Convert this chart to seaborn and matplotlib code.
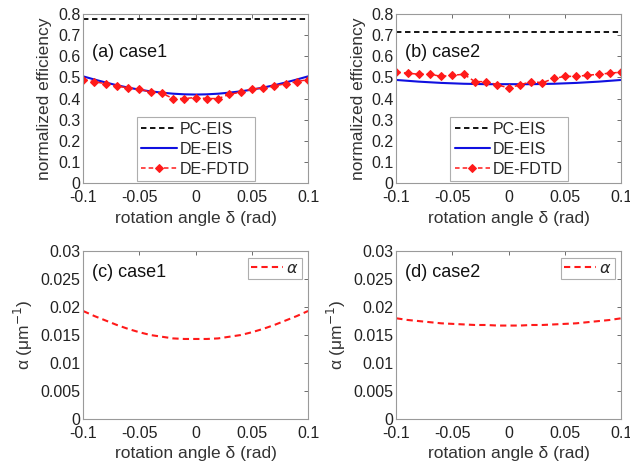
import seaborn as sns
import matplotlib.pyplot as plt
import pandas as pd
import numpy as np
from matplotlib.ticker import FuncFormatter

# =========================
#   DATA
# =========================

delta = [-0.10, -0.09, -0.08, -0.07, -0.06, -0.05, -0.04, -0.03, -0.02, -0.01, 0.00,
         0.01, 0.02, 0.03, 0.04, 0.05, 0.06, 0.07, 0.08, 0.09, 0.10]

# case1
pc_eis_1 = 0.775
de_eis_1 = [0.505, 0.490, 0.476, 0.463, 0.452, 0.442, 0.434, 0.428, 0.423, 0.420, 0.419,
            0.420, 0.423, 0.428, 0.434, 0.442, 0.452, 0.463, 0.476, 0.490, 0.505]
de_fdtd_1 = [0.490, 0.480, 0.470, 0.460, 0.450, 0.445, 0.430, 0.425, 0.400, 0.400, 0.405,
             0.400, 0.400, 0.420, 0.430, 0.445, 0.450, 0.460, 0.470, 0.480, 0.490]
alpha_1 = [0.0193, 0.0184, 0.0176, 0.0168, 0.0161, 0.0155, 0.0150, 0.0147, 0.0144, 0.0143, 0.0143,
           0.0143, 0.0144, 0.0147, 0.0150, 0.0155, 0.0161, 0.0168, 0.0176, 0.0184, 0.0193]

# case2
pc_eis_2 = 0.715
de_eis_2 = [0.488, 0.484, 0.480, 0.477, 0.474, 0.472, 0.470, 0.469, 0.468, 0.468, 0.468,
            0.468, 0.468, 0.469, 0.470, 0.472, 0.474, 0.477, 0.480, 0.484, 0.488]
de_fdtd_2 = [0.525, 0.520, 0.515, 0.515, 0.505, 0.510, 0.515, 0.480, 0.480, 0.465, 0.450,
             0.465, 0.480, 0.475, 0.495, 0.505, 0.505, 0.510, 0.515, 0.520, 0.525]
alpha_2 = [0.0180, 0.0177, 0.0175, 0.0173, 0.0171, 0.0170, 0.0169, 0.0168, 0.0168, 0.0167, 0.0167,
           0.0167, 0.0168, 0.0168, 0.0169, 0.0170, 0.0171, 0.0173, 0.0175, 0.0177, 0.0180]

eff_ticks = [0, 0.1, 0.2, 0.3, 0.4, 0.5, 0.6, 0.7, 0.8]
alpha_ticks = [0, 0.005, 0.01, 0.015, 0.02, 0.025, 0.03]
x_ticks = [-0.1, -0.05, 0, 0.05, 0.1]

# =========================
#   STYLE
# =========================

sns.set_theme(style="white")
plt.rcParams["font.family"] = ["Liberation Sans", "DejaVu Sans"]
plt.rcParams["mathtext.fontset"] = "dejavusans"

fig = plt.figure(figsize=(6.3, 4.66), dpi=100)
fmt = FuncFormatter(lambda v, p: "%g" % round(v, 4))


def style_axes(ax, yticks, ylim):
    ax.set_xlim(-0.1, 0.1)
    ax.set_ylim(*ylim)
    ax.set_xticks(x_ticks)
    ax.set_yticks(yticks)
    ax.xaxis.set_major_formatter(fmt)
    ax.yaxis.set_major_formatter(fmt)
    ax.tick_params(direction="in", length=3, width=0.6, color="#555555",
                   top=True, right=True, labelsize=11.5, labelcolor="#222222")
    ax.tick_params(axis="x", pad=5)
    ax.tick_params(axis="y", pad=2)
    for s in ax.spines.values():
        s.set_color("#9a9a9a")
        s.set_linewidth(0.8)
    ax.set_xlabel("rotation angle δ (rad)", fontsize=12.5, color="#333333", labelpad=4)


positions = {
    "a": [0.132, 0.607, 0.357, 0.363],
    "b": [0.629, 0.607, 0.357, 0.363],
    "c": [0.132, 0.101, 0.357, 0.360],
    "d": [0.629, 0.101, 0.357, 0.360],
}

# =========================
#   EFFICIENCY PANELS
# =========================

for key, case, pc, eis, fdtd in [("a", "case1", pc_eis_1, de_eis_1, de_fdtd_1),
                                  ("b", "case2", pc_eis_2, de_eis_2, de_fdtd_2)]:
    ax = fig.add_axes(positions[key])
    df = pd.DataFrame({"delta": delta, "pc": [pc] * len(delta), "eis": eis, "fdtd": fdtd})
    sns.lineplot(data=df, x="delta", y="pc", ax=ax, color="black", lw=1.3,
                 linestyle=(0, (3, 2)), label="PC-EIS")
    sns.lineplot(data=df, x="delta", y="eis", ax=ax, color="#1010e0", lw=1.5, label="DE-EIS")
    sns.lineplot(data=df, x="delta", y="fdtd", ax=ax, color="#ff1a1a", lw=1.1,
                 linestyle=(0, (3, 2)), marker="D", markersize=4.5,
                 markerfacecolor="#ff1a1a", markeredgecolor="#ff1a1a", label="DE-FDTD")
    style_axes(ax, eff_ticks, (0, 0.8))
    ax.set_ylabel("normalized efficiency", fontsize=12.5, color="#333333", labelpad=4)
    ax.text(0.04, 0.775, f"({key}) {case}", transform=ax.transAxes, fontsize=13,
            va="center", ha="left", color="#111111")
    leg = ax.legend(loc="center", bbox_to_anchor=(0.5, 0.2), fontsize=11.5,
                    frameon=True, fancybox=False, handlelength=2.2, handletextpad=0.2,
                    borderpad=0.3, labelspacing=0.3, borderaxespad=0.2)
    leg.get_frame().set_edgecolor("#9a9a9a")
    leg.get_frame().set_linewidth(0.8)

# =========================
#   ALPHA PANELS
# =========================

for key, case, alpha in [("c", "case1", alpha_1), ("d", "case2", alpha_2)]:
    ax = fig.add_axes(positions[key])
    df = pd.DataFrame({"delta": delta, "alpha": alpha})
    sns.lineplot(data=df, x="delta", y="alpha", ax=ax, color="#ff1a1a", lw=1.5,
                 linestyle=(0, (3, 2)), label=r"$\alpha$")
    style_axes(ax, alpha_ticks, (0, 0.03))
    ax.set_ylabel(r"α (μm$^{-1}$)", fontsize=12.5, color="#333333", labelpad=4)
    ax.text(0.04, 0.87, f"({key}) {case}", transform=ax.transAxes, fontsize=13,
            va="center", ha="left", color="#111111")
    leg = ax.legend(loc="upper right", fontsize=11.5, frameon=True, fancybox=False,
                    handlelength=2.0, handletextpad=0.2, borderpad=0.2, borderaxespad=0.4)
    leg.get_frame().set_edgecolor("#9a9a9a")
    leg.get_frame().set_linewidth(0.8)

plt.savefig("out.png", dpi=100)
